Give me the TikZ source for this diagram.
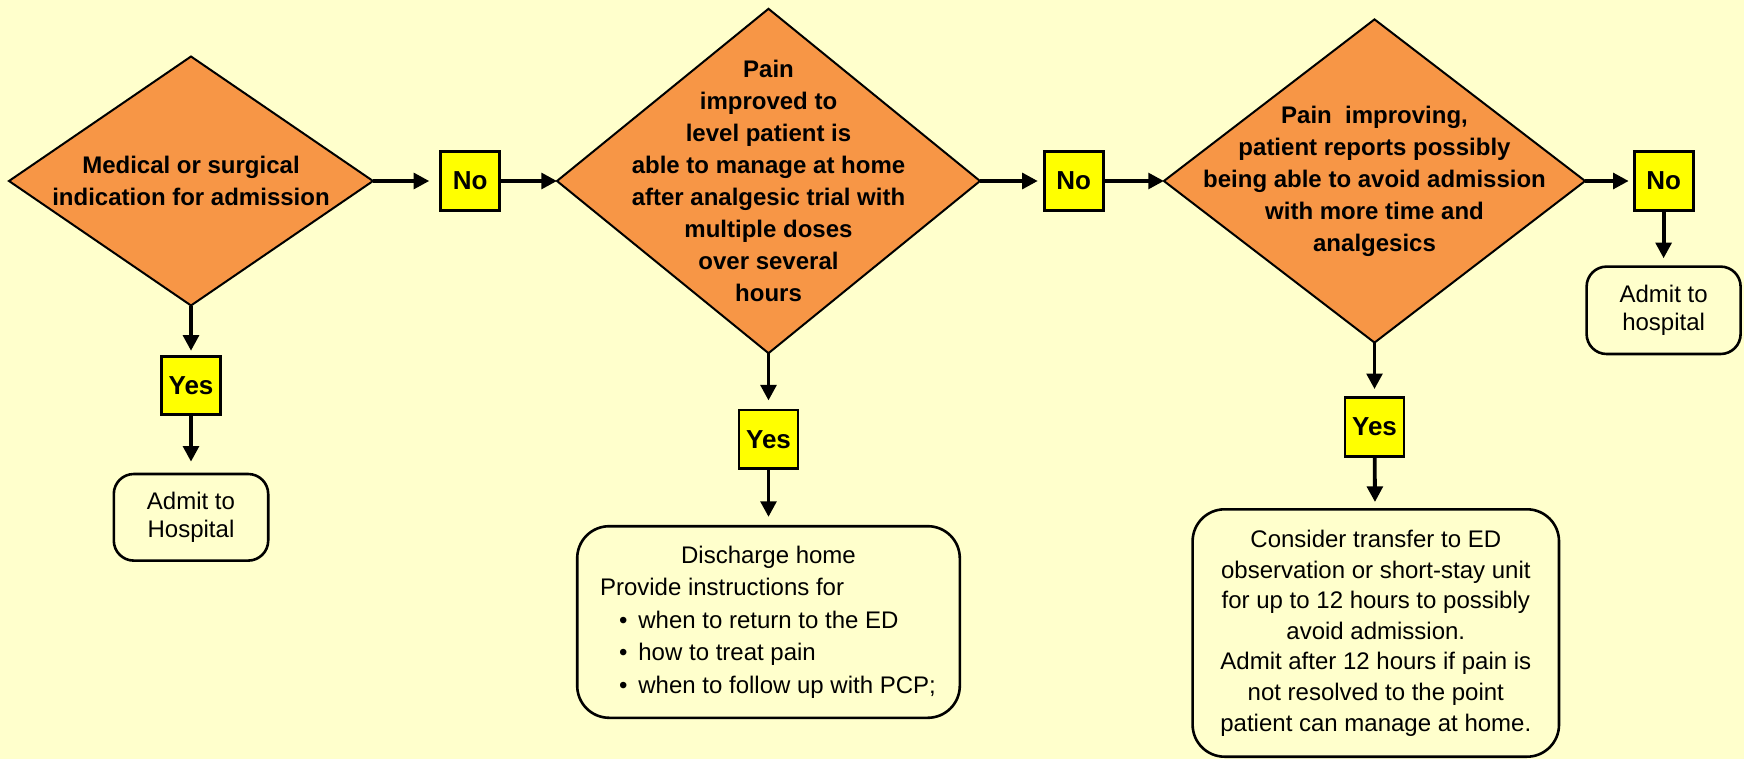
\documentclass[tikz,border=0pt]{standalone}
\usepackage{fontspec}
\setmainfont{Liberation Sans}
\usetikzlibrary{shapes.geometric,arrows.meta}
\definecolor{bg}{HTML}{FFFFCC}
\definecolor{dorange}{HTML}{F79646}
\definecolor{ybox}{HTML}{FFFF00}
\begin{document}
\begin{tikzpicture}[x=0.5pt,y=-0.5pt,
  dec/.style={diamond, draw=black, line width=1pt, fill=dorange, inner sep=0pt, outer sep=0pt},
  dtext/.style={font=\bfseries\fontsize{12}{16}\selectfont, align=center, inner sep=0pt},
  yn/.style={draw=black, line width=1.4pt, fill=ybox, font=\bfseries\fontsize{13}{15}\selectfont, inner sep=0pt, minimum width=29.5pt, minimum height=29.3pt},
  rbox/.style={draw=black, line width=1.3pt, fill=bg, rounded corners=10pt, align=center, inner sep=0pt, font=\fontsize{12}{14}\selectfont},
  arr/.style={line width=1.9pt, -{Triangle[length=7.8pt,width=7.8pt]}},
]
\fill[bg] (0,0) rectangle (1744,759);
\useasboundingbox (0,0) rectangle (1744,759);

% decisions
\node[dec, minimum width=182pt, minimum height=124.5pt] (d1) at (191,181) {};
\node[dtext] (d1t) at (d1) {Medical or surgical\\indication for admission};
\node[dec, minimum width=211.5pt, minimum height=172.2pt] (d2) at (768.5,181) {};
\node[dtext] (d2t) at (d2) {Pain\\improved to\\level patient is\\able to manage at home\\after analgesic trial with\\multiple doses\\over several\\hours};
\node[dec, minimum width=210.6pt, minimum height=161.6pt] (d3) at (1374.5,181) {};
\node[dtext] (d3t) at (d3) {Pain\ \ improving,\\patient reports possibly\\being able to avoid admission\\with more time and\\analgesics};

% yes / no
\node[yn] (no1) at (470.2,181) {No};
\node[yn] (no2) at (1073.7,181) {No};
\node[yn] (no3) at (1663.6,181) {No};
\node[yn] (yes1) at (191,385.5) {Yes};
\node[yn] (yes2) at (768.5,439.2) {Yes};
\node[yn] (yes3) at (1374.5,426.8) {Yes};

% outcomes
\node[rbox, minimum width=77.2pt, minimum height=43.3pt] (adm1) at (191,517.3) {Admit to\\Hospital};
\node[rbox, minimum width=77pt, minimum height=43.7pt] (adm3) at (1663.6,310.3) {Admit to\\hospital};
\node[rbox, rounded corners=16pt, minimum width=191.3pt, minimum height=95.8pt, align=left, font=\fontsize{12}{16.25}\selectfont] (dis) at (768.5,622)
  {\makebox[168.5pt][c]{Discharge home}\\Provide instructions for\\\hspace*{9.5pt}\makebox[9.7pt][l]{•}when to return to the ED\\\hspace*{9.5pt}\makebox[9.7pt][l]{•}how to treat pain\\\hspace*{9.5pt}\makebox[9.7pt][l]{•}when to follow up with PCP;};
\node[rbox, rounded corners=16pt, minimum width=183.2pt, minimum height=123.7pt, font=\fontsize{12}{15.3}\selectfont] (con) at (1375.8,633)
  {Consider transfer to ED\\observation or short-stay unit\\for up to 12 hours to possibly\\avoid admission.\\Admit after 12 hours if pain is\\not resolved to the point\\patient can manage at home.};

% connectors
\draw[arr, shorten >=5pt] (d1) -- (no1);
\draw[arr] (no1) -- (d2);
\draw[arr, shorten >=2.5pt] (d2) -- (no2);
\draw[arr] (no2) -- (d3);
\draw[arr, shorten >=2pt] (d3) -- (no3);
\draw[arr, shorten >=3.5pt] (no3) -- (adm3);
\draw[arr, shorten >=2pt] (d1) -- (yes1);
\draw[arr, shorten >=5.5pt] (yes1) -- (adm1);
\draw[arr, shorten >=4pt] (d2) -- (yes2);
\draw[arr, shorten >=4pt] (yes2) -- (dis);
\draw[arr, shorten >=3.5pt] (d3) -- (yes3);
\draw[arr, shorten >=3pt] (yes3) -- (con);
\end{tikzpicture}
\end{document}
